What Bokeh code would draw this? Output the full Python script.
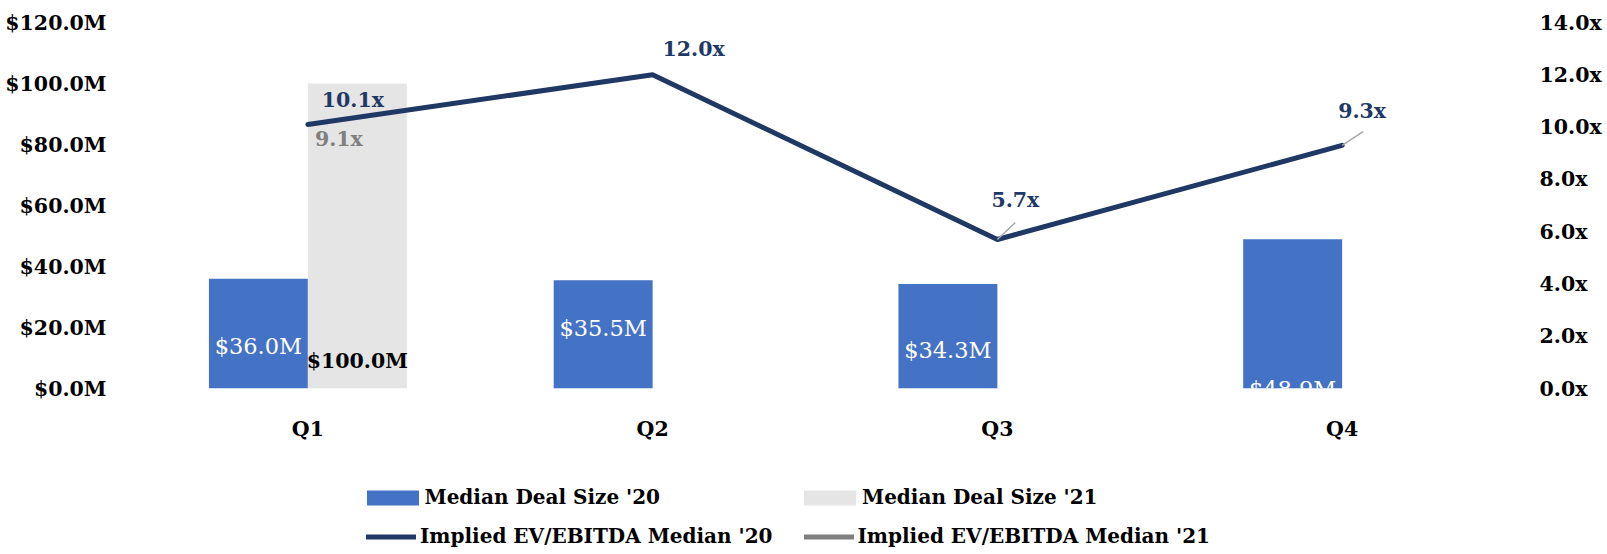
import math
from bokeh.plotting import figure
from bokeh.layouts import column
from bokeh.models import (ColumnDataSource, Range1d, LinearAxis, FixedTicker,
                          PrintfTickFormatter, Legend, LegendItem, FactorRange)
from bokeh.transform import dodge
from bokeh.core.properties import value
from bokeh.embed import file_html
from bokeh.resources import INLINE

NaN = float("nan")

# ---------------- data ----------------
quarters = ["Q1", "Q2", "Q3", "Q4"]
deal_size_20 = [36.0, 35.5, 34.3, 48.9]          # $M
deal_size_21 = [100.0, NaN, NaN, NaN]            # $M
ev_ebitda_20 = [10.1, 12.0, 5.7, 9.3]            # x
ev_ebitda_21 = [9.1, NaN, NaN, NaN]              # x
deal_ticks = [0, 20, 40, 60, 80, 100, 120]
mult_ticks = [0, 2, 4, 6, 8, 10, 12, 14]
series_names = ["Median Deal Size '20", "Median Deal Size '21",
                "Implied EV/EBITDA Median '20", "Implied EV/EBITDA Median '21"]

# ---------------- styling ----------------
FONT = "DejaVu Serif"
BLUE = "#4472C4"
LIGHT = "#E5E5E5"
NAVY = "#203864"
GREY = "#7F7F7F"
LEADER = "#A6A6A6"
BAR_W = 0.287

# label placement (styling): bar label heights in $M units, line label offsets in px
bar20_label_y = [13.9, 19.8, 12.6, -0.3]
bar21_label_y = [9.0, NaN, NaN, NaN]
line20_dx = [45, 41, 18, 20]
line20_dy = [-24, -26, -39, -34]
line21_dx = [31, 0, 0, 0]
line21_dy = [-12, 0, 0, 0]
leader_dx = [0, 0, 0.052, 0.061]   # category units
leader_dy = [0, 0, 0.65, 0.53]     # multiple units


def fmt(v, f):
    return "" if (v is None or (isinstance(v, float) and math.isnan(v))) else f % v


src = ColumnDataSource(dict(
    q=quarters,
    d20=deal_size_20, d21=deal_size_21,
    e20=ev_ebitda_20, e21=ev_ebitda_21,
    l20y=bar20_label_y, l21y=bar21_label_y,
    t20=[fmt(v, "$%.1fM") for v in deal_size_20],
    t21=[fmt(v, "$%.1fM") for v in deal_size_21],
    te20=[fmt(v, "%.1fx") for v in ev_ebitda_20],
    te21=[fmt(v, "%.1fx") for v in ev_ebitda_21],
    dx20=line20_dx, dy20=line20_dy, dx21=line21_dx, dy21=line21_dy,
))

W = 1604
H_MAIN = 443
H_LEG = 108
FRAME_LEFT = 135

p = figure(x_range=FactorRange(*quarters), y_range=Range1d(0, 120),
           width=W, height=H_MAIN, output_backend="svg", toolbar_location=None,
           min_border_left=FRAME_LEFT, min_border_right=88, min_border_top=22,
           min_border_bottom=H_MAIN - 390)
p.outline_line_color = None
p.background_fill_color = "white"
p.border_fill_color = "white"
p.xgrid.grid_line_color = None
p.ygrid.grid_line_color = None

p.extra_y_ranges = {"mult": Range1d(0, 14)}

bar20_style = dict(fill_color=BLUE, line_color=None)
bar21_style = dict(fill_color=LIGHT, line_color=None)
line20_style = dict(line_color=NAVY, line_width=5, line_cap="round", line_join="round")
line21_style = dict(line_color=GREY, line_width=5, line_cap="round", line_join="round")

# bars
p.vbar(x=dodge("q", -BAR_W / 2, range=p.x_range), top="d20", width=BAR_W,
       source=src, **bar20_style)
p.vbar(x=dodge("q", BAR_W / 2, range=p.x_range), top="d21", width=BAR_W,
       source=src, **bar21_style)

# bar labels
p.text(x=dodge("q", -BAR_W / 2, range=p.x_range), y="l20y", text="t20", source=src,
       text_font=value(FONT), text_font_size="22.5px", text_color="white",
       text_align="center", text_baseline="middle")
p.text(x=dodge("q", BAR_W / 2, range=p.x_range), y="l21y", text="t21", source=src,
       text_font=value(FONT), text_font_size="20.5px", text_font_style="bold",
       text_color="black", text_align="center", text_baseline="middle")

# lines
p.line(x="q", y="e20", source=src, y_range_name="mult", **line20_style)
p.line(x="q", y="e21", source=src, y_range_name="mult", **line21_style)

# leader lines
lx0, ly0, lx1, ly1 = [], [], [], []
for i, v in enumerate(ev_ebitda_20):
    if leader_dx[i] != 0:
        lx0.append(i + 0.5)
        ly0.append(v)
        lx1.append(i + 0.5 + leader_dx[i])
        ly1.append(v + leader_dy[i])
p.segment(x0=lx0, y0=ly0, x1=lx1, y1=ly1, y_range_name="mult",
          line_color=LEADER, line_width=1.5)

# line labels
p.text(x="q", y="e20", text="te20", source=src, y_range_name="mult",
       x_offset="dx20", y_offset="dy20",
       text_font=value(FONT), text_font_size="20.5px", text_font_style="bold",
       text_color=NAVY, text_align="center", text_baseline="middle")
p.text(x="q", y="e21", text="te21", source=src, y_range_name="mult",
       x_offset="dx21", y_offset="dy21",
       text_font=value(FONT), text_font_size="20.5px", text_font_style="bold",
       text_color=GREY, text_align="center", text_baseline="middle")

# axes
def style_axis(ax):
    ax.axis_line_color = None
    ax.major_tick_line_color = None
    ax.minor_tick_line_color = None
    ax.major_tick_out = 0
    ax.major_tick_in = 0
    ax.minor_tick_out = 0
    ax.minor_tick_in = 0
    ax.major_label_text_font = FONT
    ax.major_label_text_font_style = "bold"
    ax.major_label_text_font_size = "20.5px"
    ax.major_label_text_color = "black"

yl = p.yaxis[0]
yl.ticker = FixedTicker(ticks=deal_ticks)
yl.formatter = PrintfTickFormatter(format="$%.1fM")
style_axis(yl)
yl.major_label_standoff = 29

yr = LinearAxis(y_range_name="mult", ticker=FixedTicker(ticks=mult_ticks),
                formatter=PrintfTickFormatter(format="%.1fx"))
style_axis(yr)
yr.major_label_standoff = 25
p.add_layout(yr, "right")

xa = p.xaxis[0]
style_axis(xa)
xa.major_label_standoff = 28

# ---------------- legend strip below the chart ----------------
# The series are drawn again here, outside the visible ranges, only to feed the legend.
pl = figure(width=W, height=H_LEG, output_backend="svg", toolbar_location=None,
            x_axis_type=None, y_axis_type=None,
            x_range=FactorRange(*quarters), y_range=Range1d(1000, 1001),
            min_border=0, min_border_left=0, min_border_right=0,
            min_border_top=0, min_border_bottom=0)
pl.outline_line_color = None
pl.xgrid.grid_line_color = None
pl.ygrid.grid_line_color = None
pl.background_fill_color = "white"
pl.border_fill_color = "white"

far = dodge("q", -100, range=pl.x_range)
g_b20 = pl.vbar(x=far, top="d20", width=0, source=src, **bar20_style)
g_b21 = pl.vbar(x=far, top="d21", width=0, source=src, **bar21_style)
g_l20 = pl.line(x=far, y="e20", source=src, **line20_style)
g_l21 = pl.line(x=far, y="e21", source=src, **line21_style)

def make_legend(label, renderer, page_x, vy, is_bar):
    if is_bar:
        # area swatches are inset by 10% on each side
        gw, gh, standoff, x0 = 65, 19, -7, page_x - 6.5
    else:
        gw, gh, standoff, x0 = 50, 19, 4, page_x
    return Legend(items=[LegendItem(label=label, renderers=[renderer])],
                  location=(x0 - FRAME_LEFT, vy), orientation="vertical",
                  glyph_width=gw, glyph_height=gh, label_height=22,
                  label_standoff=standoff, spacing=0, padding=0, margin=0,
                  border_line_color=None, background_fill_alpha=0,
                  label_text_font=FONT, label_text_font_style="bold",
                  label_text_font_size="20px", label_text_color="black")

ROW1_VY, ROW2_VY = 42, 3
pl.add_layout(make_legend(series_names[0], g_b20, 366, ROW1_VY, True))
pl.add_layout(make_legend(series_names[2], g_l20, 366, ROW2_VY, False))
pl.add_layout(make_legend(series_names[1], g_b21, 803.5, ROW1_VY, True))
pl.add_layout(make_legend(series_names[3], g_l21, 803.5, ROW2_VY, False))

layout = column(p, pl, spacing=0)
open("out.html", "w").write(file_html(layout, INLINE))
